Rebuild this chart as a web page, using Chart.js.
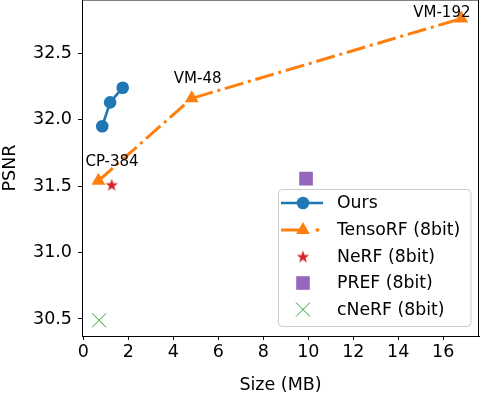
<!DOCTYPE html>
<html>
<head>
<meta charset="utf-8">
<script src="https://cdn.jsdelivr.net/npm/chart.js@4.4.0/dist/chart.umd.min.js"></script>
<style>
html, body { margin: 0; padding: 0; background: #fff; }
#wrap { width: 480px; height: 394px; }
</style>
</head>
<body>
<div id="wrap"><canvas id="myChart" width="480" height="394"></canvas></div>
<script>
// values: model size (MB) vs PSNR
var ours_size = [0.84, 1.19, 1.75];
var ours_psnr = [31.95, 32.13, 32.24];
var tenso_size = [0.67, 4.82, 16.8];
var tenso_psnr = [31.54, 32.16, 32.76];
var tenso_names = ['CP-384', 'VM-48', 'VM-192'];
var nerf_size = [1.26];
var nerf_psnr = [31.51];
var pref_size = [9.9];
var pref_psnr = [31.556];
var cnerf_size = [0.70];
var cnerf_psnr = [30.49];
var series_names = ['Ours', 'TensoRF (8bit)', 'NeRF (8bit)', 'PREF (8bit)', 'cNeRF (8bit)'];
var x_ticks = [0, 2, 4, 6, 8, 10, 12, 14, 16];
var y_ticks = [30.5, 31.0, 31.5, 32.0, 32.5];

var FONT = "'DejaVu Sans', sans-serif";
var blue = '#1f77b4', orange = '#ff7f0e', red = '#d62728', purple = '#9467bd', green = '#2ca02c';
var dashdot = [19.2, 4.8, 3, 4.8];

function toPoints(xs, ys) {
    var pts = [];
    for (var i = 0; i < xs.length; i++) {
        pts.push({x: xs[i], y: ys[i]});
    }
    return pts;
}

// filled star marker (chart.js 'star' is only an asterisk)
function makeStar(color, r) {
    var c = document.createElement('canvas');
    c.width = 16; c.height = 16;
    var g = c.getContext('2d');
    g.fillStyle = color;
    g.beginPath();
    for (var i = 0; i < 10; i++) {
        var rr = (i % 2) ? r * 0.4 : r;
        var a = -Math.PI / 2 + i * Math.PI / 5;
        g.lineTo(8 + rr * Math.cos(a), 8.6 + rr * Math.sin(a));
    }
    g.closePath();
    g.fill();
    return c;
}
var star = makeStar(red, 6.6);

// draws spines, point labels and the legend box
var extras = {
    id: 'extras',
    afterDatasetsDraw: function(chart) {
        var ctx = chart.ctx;
        var a = chart.chartArea;
        var xs = chart.scales.x, ys = chart.scales.y;
        ctx.save();
        ctx.strokeStyle = '#000';
        ctx.lineWidth = 1;
        ctx.beginPath();
        ctx.moveTo(a.left, a.top);
        ctx.lineTo(a.right, a.top);
        ctx.moveTo(a.right - 0.5, a.top);
        ctx.lineTo(a.right - 0.5, a.bottom);
        ctx.stroke();

        // TensoRF labels
        var offsets = [[-13, -15], [-18, -15], [-48, -2]];
        ctx.font = '15px ' + FONT;
        ctx.fillStyle = '#000';
        ctx.textBaseline = 'alphabetic';
        ctx.textAlign = 'left';
        for (var i = 0; i < tenso_names.length; i++) {
            var px = xs.getPixelForValue(tenso_size[i]);
            var py = ys.getPixelForValue(tenso_psnr[i]);
            ctx.fillText(tenso_names[i], px + offsets[i][0], py + offsets[i][1]);
        }

        // legend
        var bx = 278.5, by = 189.5, bw = 192.5, bh = 137;
        ctx.beginPath();
        ctx.roundRect(bx, by, bw, bh, 4);
        ctx.fillStyle = 'rgba(255,255,255,0.8)';
        ctx.fill();
        ctx.strokeStyle = '#cccccc';
        ctx.stroke();

        var rows = [204, 231, 257.5, 284, 310.5];
        var x0 = 281, x1 = 323, mx = 303, tx = 337;
        for (var k = 0; k < series_names.length; k++) {
            var y = rows[k] - 1;
            if (k === 0 || k === 1) {
                ctx.beginPath();
                ctx.strokeStyle = k === 0 ? blue : orange;
                ctx.lineWidth = k === 0 ? 2.6 : 3;
                ctx.setLineDash(k === 0 ? [] : [19.2, 15.5, 3.5, 10]);
                ctx.moveTo(x0, y);
                ctx.lineTo(x1, y);
                ctx.stroke();
                ctx.setLineDash([]);
            }
            ctx.beginPath();
            if (k === 0) {
                ctx.fillStyle = blue;
                ctx.arc(mx, y, 6.3, 0, Math.PI * 2);
                ctx.fill();
            } else if (k === 1) {
                ctx.fillStyle = orange;
                ctx.moveTo(mx, y - 8);
                ctx.lineTo(mx + 6.93, y + 4);
                ctx.lineTo(mx - 6.93, y + 4);
                ctx.closePath();
                ctx.fill();
            } else if (k === 2) {
                ctx.drawImage(star, mx - 8, y - 8);
            } else if (k === 3) {
                ctx.fillStyle = purple;
                ctx.fillRect(mx - 6.8, y - 6.8, 13.6, 13.6);
            } else {
                ctx.strokeStyle = green;
                ctx.lineWidth = 1;
                ctx.moveTo(mx - 7, y - 7); ctx.lineTo(mx + 7, y + 7);
                ctx.moveTo(mx + 7, y - 7); ctx.lineTo(mx - 7, y + 7);
                ctx.stroke();
            }
            ctx.fillStyle = '#000';
            ctx.font = '17.3px ' + FONT;
            ctx.textBaseline = 'middle';
            ctx.fillText(series_names[k], tx, rows[k]);
        }
        ctx.restore();
    }
};

var ctx = document.getElementById('myChart');
var myChart = new Chart(ctx, {
    type: 'scatter',
    data: {
        datasets: [{
            label: series_names[0],
            data: toPoints(ours_size, ours_psnr),
            showLine: true,
            borderColor: blue,
            backgroundColor: blue,
            borderWidth: 2.6,
            pointStyle: 'circle',
            pointRadius: 6.3,
            pointBorderWidth: 0,
            order: 5
        }, {
            label: series_names[1],
            data: toPoints(tenso_size, tenso_psnr),
            showLine: true,
            borderColor: orange,
            backgroundColor: orange,
            borderWidth: 3,
            borderDash: dashdot,
            pointStyle: 'triangle',
            pointRadius: 8,
            pointBorderWidth: 0,
            order: 4
        }, {
            label: series_names[2],
            data: toPoints(nerf_size, nerf_psnr),
            pointStyle: star,
            pointRadius: 7,
            order: 3
        }, {
            label: series_names[3],
            data: toPoints(pref_size, pref_psnr),
            backgroundColor: purple,
            borderColor: purple,
            pointStyle: 'rect',
            pointRadius: 9.7,
            pointBorderWidth: 0,
            order: 2
        }, {
            label: series_names[4],
            data: toPoints(cnerf_size, cnerf_psnr),
            backgroundColor: green,
            borderColor: green,
            pointStyle: 'crossRot',
            pointRadius: 9.9,
            pointBorderWidth: 1,
            order: 1
        }]
    },
    options: {
        responsive: false,
        animation: false,
        devicePixelRatio: 1,
        layout: {autoPadding: false, padding: {top: 0, right: 1, left: 0, bottom: 0}},
        plugins: {
            legend: {display: false},
            tooltip: {enabled: false}
        },
        scales: {
            x: {
                type: 'linear',
                min: -0.06,
                max: 17.59,
                afterFit: function(scale) {
                    scale.height = 58;
                    scale.paddingLeft = 0;
                    scale.paddingRight = 0;
                },
                afterBuildTicks: function(scale) {
                    scale.ticks = x_ticks.map(function(v) { return {value: v}; });
                },
                ticks: {
                    color: '#000',
                    font: {family: FONT, size: 17.5},
                    padding: 2,
                    maxRotation: 0,
                    callback: function(v) { return String(v); }
                },
                grid: {drawOnChartArea: false, drawTicks: true, tickLength: 4, color: '#000'},
                border: {display: true, color: '#000', width: 1},
                title: {
                    display: true,
                    text: 'Size (MB)',
                    color: '#000',
                    font: {family: FONT, size: 17.5, lineHeight: 1.0},
                    padding: {top: 0, bottom: 0}
                }
            },
            y: {
                type: 'linear',
                min: 30.372,
                max: 32.9,
                afterFit: function(scale) {
                    scale.width = 82;
                    scale.paddingTop = 0;
                    scale.paddingBottom = 0;
                },
                afterBuildTicks: function(scale) {
                    scale.ticks = y_ticks.map(function(v) { return {value: v}; });
                },
                ticks: {
                    color: '#000',
                    font: {family: FONT, size: 17.5},
                    padding: 6,
                    callback: function(v) { return v.toFixed(1); }
                },
                grid: {drawOnChartArea: false, drawTicks: true, tickLength: 4, color: '#000'},
                border: {display: true, color: '#000', width: 1},
                title: {
                    display: true,
                    text: 'PSNR',
                    color: '#000',
                    font: {family: FONT, size: 17.5},
                    padding: {top: 0, bottom: 0}
                }
            }
        }
    },
    plugins: [extras]
});
</script>
</body>
</html>
